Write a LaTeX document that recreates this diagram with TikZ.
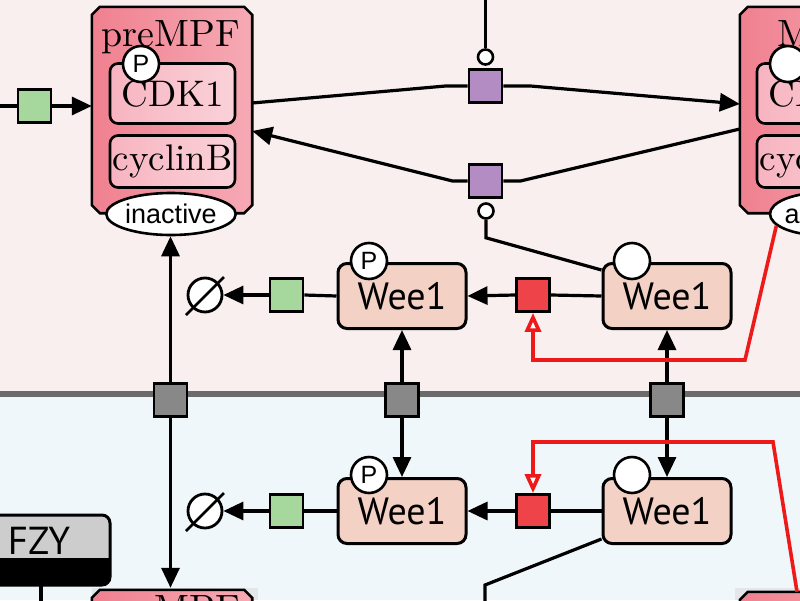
\documentclass[tikz,border=0pt]{standalone}
\usepackage{fontspec}
\newfontfamily\wfont{PT Sans}
\newfontfamily\afont{Liberation Sans}
\newfontfamily\cmfont[Extension=.otf]{lmroman10-regular}
\usetikzlibrary{arrows.meta,shapes.geometric,calc}
\definecolor{bgtop}{HTML}{F9EFEF}
\definecolor{bgbot}{HTML}{F0F7FA}
\definecolor{sepgray}{HTML}{6B6B6B}
\definecolor{greenp}{HTML}{A6D89E}
\definecolor{purp}{HTML}{B28CC3}
\definecolor{redp}{HTML}{EE4348}
\definecolor{grayp}{HTML}{888888}
\definecolor{weefill}{HTML}{F3D1C4}
\definecolor{cplxL}{HTML}{F0808F}
\definecolor{cplxR}{HTML}{F6AAB5}
\definecolor{innL}{HTML}{F7B4C0}
\definecolor{innR}{HTML}{FAD2D9}
\definecolor{redline}{HTML}{EE1A1A}
\definecolor{fzygray}{HTML}{CDCDCD}
\definecolor{shadowgray}{HTML}{E4E6EA}
\tikzset{
  edge/.style={line width=3.2pt},
  arr/.style={-{Triangle[length=20pt,width=18pt]}},
  stim/.style={line width=3.6pt, draw=redline, -{Triangle[open,length=19pt,width=16pt,fill=white]}},
  proc/.style={draw, line width=2.8pt, minimum size=33pt, inner sep=0pt},
  wee/.style={draw, line width=3pt, rounded corners=9pt, fill=weefill, minimum width=128pt, minimum height=65pt, inner sep=0pt, font=\wfont\fontsize{38}{38}\selectfont},
  sv/.style={circle, draw, fill=white, line width=2.6pt, minimum size=36pt, inner sep=0pt, font=\afont\fontsize{25}{25}\selectfont},
  cat/.style={circle, draw, fill=white, line width=2.6pt, minimum size=15pt, inner sep=0pt},
  deg/.style={circle, draw, fill=white, line width=2.8pt, minimum size=34pt, inner sep=0pt},
  cbox/.style={draw=none, minimum width=160pt, minimum height=206pt, inner sep=0pt},
  cplx/.style={draw, line width=2.6pt, left color=cplxL, right color=cplxR},
  inner/.style={draw, line width=2.6pt, rounded corners=8pt, left color=innL, right color=innR, minimum width=125pt, inner sep=0pt, font=\cmfont\fontsize{37}{37}\selectfont},
  ell/.style={ellipse, draw, fill=white, line width=2.6pt, inner sep=0pt, minimum height=42pt, font=\afont\fontsize{27}{27}\selectfont},
  clab/.style={anchor=base, inner sep=0pt, font=\cmfont\fontsize{38}{38}\selectfont}
}
\newcommand{\chamf}[2]{% #1 node name, #2 chamfer
  \path[cplx] ([xshift=#2]#1.north west) -- ([xshift=-#2]#1.north east) -- ([yshift=-#2]#1.north east)
   -- ([yshift=#2]#1.south east) -- ([xshift=-#2]#1.south east) -- ([xshift=#2]#1.south west)
   -- ([yshift=#2]#1.south west) -- ([yshift=-#2]#1.north west) -- cycle;}
\begin{document}
\begin{tikzpicture}[x=1pt,y=-1pt]
\useasboundingbox (0,0) rectangle (800,600);
\clip (0,0) rectangle (800,600);
% backgrounds
\fill[bgtop] (0,0) rectangle (800,394);
\fill[bgbot] (0,394) rectangle (800,600);
\draw[sepgray, line width=6pt] (0,394) -- (800,394);

% ---------- preMPF (top left) ----------
\node[cbox] (pre) at (172,110) {};
\chamf{pre}{8pt}
\node[clab] (prelab) at (171,46) {preMPF};
\node[inner, minimum height=60pt] (cdk1) at (172.5,93.5) {\raisebox{-4pt}{CDK1}};
\node[inner, minimum height=52pt] (cycb) at (172.5,161.5) {cyclinB};
\node[sv] (preP) at (141,64) {P};
\node[ell, minimum width=113pt] (inact) at (171,214) {inactive};

% ---------- MPF (top right, cut) ----------
\node[cbox] (mpf) at (820,110) {};
\chamf{mpf}{8pt}
\node[clab] (mpflab) at (820,46) {MPF};
\node[inner, minimum height=60pt] (cdk1b) at (819.5,93.5) {\raisebox{-4pt}{CDK1}};
\node[inner, minimum height=52pt] (cycbb) at (819.5,161.5) {cyclinB};
\node[sv] (mpfS) at (788,64) {};
\node[ell, minimum width=100pt] (act) at (820,214) {active};

% ---------- bottom complexes (cut) ----------
\fill[shadowgray] (92,588) rectangle (258,600);
\fill[shadowgray] (735,588) rectangle (800,600);
\node[cbox] (preB) at (172,693) {};
\chamf{preB}{8pt}
\node[clab] (preBlab) at (171,621) {preMPF};
\node[cbox] (mpfB) at (820,695) {};
\chamf{mpfB}{8pt}

% ---------- FZY ----------
\node[draw, line width=3pt, fill=fzygray, rounded corners=8pt, minimum width=140pt, minimum height=70pt, inner sep=0pt] (fzy) at (40,550) {};
\fill[black, rounded corners=8pt] (-30,558) rectangle (110,585);
\fill[black] (-30,558) rectangle (110,568);
\node[font=\wfont\fontsize{39}{39}\selectfont, inner sep=0pt] (fzylab) at (39,541) {FZY};
\coordinate (fzyend) at (41,605);
\draw[edge] (41,585) -- (fzyend);

% ---------- top processes ----------
\node[proc, fill=greenp] (G0) at (34.5,106) {};
\coordinate (in0) at (-5,106);
\draw[edge] (in0) -- (G0.west);
\draw[edge,arr] (G0.east) -- (pre.west |- G0);

\node[proc, fill=purp] (P1) at (485.5,86) {};
\node[cat] (c1) at (485.5,57) {};
\coordinate (c1top) at (485.5,-5);
\draw[edge] (c1top) -- (c1.north);
\draw[edge] ([yshift=7pt]pre.east) -- ([xshift=-22pt]P1.west) -- (P1.west);
\draw[edge,arr] (P1.east) -- ([xshift=27pt]P1.east) -- ([yshift=6pt]mpf.west);

\node[proc, fill=purp] (P2) at (485.5,181) {};
\node[cat] (c2) at (486,211) {};
\draw[edge] ([yshift=-19pt]mpf.west) -- ([xshift=17pt]P2.east) -- (P2.east);
\draw[edge,arr] (P2.west) -- ([xshift=-15pt]P2.west) -- ([yshift=-21pt]pre.east);

% ---------- Wee1 top row ----------
\node[wee] (wl1) at (402,296) {\raisebox{-6pt}{Wee1}};
\node[wee] (wr1) at (667,296) {\raisebox{-6pt}{Wee1}};
\node[sv] (wl1s) at (369,261) {P};
\node[sv] (wr1s) at (632,261) {};
\node[proc, fill=redp] (R1) at (533,295) {};
\node[proc, fill=greenp] (G1) at (286.5,295) {};
\node[deg] (D1) at (205,295) {};
\draw[line width=2.8pt] ($(D1.center)+(-19,20)$) -- ($(D1.center)+(19,-18)$);
\draw[edge] (wr1.west) -- (R1.east);
\draw[edge,arr] (R1.west) -- (wl1.east);
\draw[edge] (wl1.west) -- (G1.east);
\draw[edge,arr] (G1.west) -- (D1.east);
\draw[edge] (c2.south) -- ([yshift=-18pt]c2.south) -- ([yshift=-8pt]wr1.north west);

% ---------- transport ----------
\node[proc, fill=grayp] (T1) at (170.5,400) {};
\node[proc, fill=grayp] (T2) at (402,400) {};
\node[proc, fill=grayp] (T3) at (667,400) {};
\draw[edge,arr] (T1.north) -- (inact.south -| T1);
\draw[edge,arr] (T1.south) -- ([yshift=2pt]preB.north -| T1);
\draw[edge,arr] (T2.north) -- (wl1.south);
\draw[edge,arr] (T3.north) -- (wr1.south);

% ---------- Wee1 bottom row ----------
\node[wee] (wl2) at (402,511) {\raisebox{-6pt}{Wee1}};
\node[wee] (wr2) at (667,511) {\raisebox{-6pt}{Wee1}};
\node[sv] (wl2s) at (369,475) {P};
\node[sv] (wr2s) at (632,475) {};
\node[proc, fill=redp] (R2) at (533,511) {};
\node[proc, fill=greenp] (G2) at (286.5,511) {};
\node[deg] (D2) at (205,511) {};
\draw[line width=2.8pt] ($(D2.center)+(-19,20)$) -- ($(D2.center)+(19,-18)$);
\draw[edge] (wr2.west) -- (R2.east);
\draw[edge,arr] (R2.west) -- (wl2.east);
\draw[edge] (wl2.west) -- (G2.east);
\draw[edge,arr] (G2.west) -- (D2.east);
\draw[edge,arr] (T2.south) -- (wl2.north);
\draw[edge,arr] (T3.south) -- (wr2.north);
\coordinate (bend2) at (485,585);
\coordinate (out2) at (485,610);
\draw[edge] ([yshift=6pt]wr2.south west) -- (bend2) -- (out2);

% ---------- red stimulations ----------
\coordinate (s1) at (745,360);
\draw[stim] (act.195) -- (s1) -- (s1 -| R1) -- (R1.south);
\coordinate (s2) at (773,442);
\draw[stim] ([xshift=-23pt]mpfB.north) -- (s2) -- (s2 -| R2) -- (R2.north);
\end{tikzpicture}
\end{document}
